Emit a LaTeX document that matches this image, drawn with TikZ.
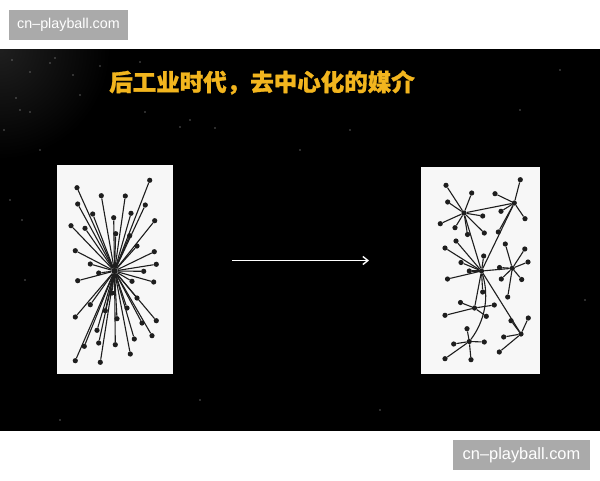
\documentclass[tikz,border=0pt]{standalone}
\usepackage{fontspec}
\setmainfont{Liberation Sans}
\newfontfamily\cjk{Noto Sans CJK SC}
\usetikzlibrary{arrows.meta}
\definecolor{gold}{HTML}{F2B51E}
\definecolor{wmgrey}{HTML}{AAAAAA}
\definecolor{paper}{HTML}{F7F7F7}
\definecolor{ink}{HTML}{1E1E1E}
\tikzset{
  dot/.style={circle,fill=ink,inner sep=0pt,minimum size=5.2pt},
  hub/.style={circle,fill=ink,inner sep=0pt,minimum size=5.2pt},
  spoke/.style={draw=ink,line width=1.1pt},
  panel/.style={fill=paper,draw=none},
  wmbox/.style={fill=wmgrey,draw=none,text=white,inner sep=0pt,anchor=center},
}
\begin{document}
\begin{tikzpicture}[x=1pt,y=-1pt]
\useasboundingbox (0,0) rectangle (600,480);
\fill[white] (0,0) rectangle (600,480);
\fill[black] (0,49) rectangle (600,431);
\begin{scope}
  \clip (0,49) rectangle (600,431);
  \shade[inner color=black!88!white, outer color=black] (0,49) circle (110pt);
\end{scope}
% faint stars
\foreach \sx/\sy in {12/60,30/72,55/58,80/95,20/110,140/62,190/120,300/150,350/130,40/150,560/70,520/110,10/200,25/280,585/300,200/400,380/410,60/420,16/98,30/112,73/75,145/112,180/127,4/130,215/128,22/220,50/63,100/66}
  \fill[gray!50] (\sx,\sy) circle (0.55pt);
% watermarks
\node[wmbox,minimum width=119pt,minimum height=30pt] (wm1) at (68.5,25) {\fontsize{14.3}{15}\selectfont cn–playball.com};
\node[wmbox,minimum width=137pt,minimum height=30pt] (wm2) at (521.5,455) {\fontsize{16.4}{17}\selectfont cn–playball.com};
% title
\node[text=gold,inner sep=0pt] (title) at (262,82.5) {\cjk\bfseries\addfontfeature{FakeBold=1.2}\fontsize{23.5}{24}\selectfont 后工业时代，去中心化的媒介};
% panels
\fill[panel] (57,165) rectangle (173,374);
\fill[panel] (421,167) rectangle (540,374);
% left: centralised star
\node[hub,minimum size=6.5pt] (lc) at (114.5,271) {};
\foreach [count=\i] \px/\py in {77/187.7,149.7/180.3,101.3/195.7,125.3/196,77.7/204,145.3/205,92.7/214,131/213.3,113.7/217.7,154.7/220.7,71/225.7,85/228.3,115.7/233.7,129.7/235.7,137/246,75.3/250.7,154.3/251.7,90.3/264,156.3/264.3,98.7/273,143.7/271.3,77.7/280.7,132/281.3,153.7/282,112/293,137/298,90.3/304.7,127/308,105.3/310.7,75.3/317,117/318.7,142/323,156.3/320.7,97/330.3,152/335.7,134.3/339,98.7/343,115.3/344.7,84.3/346.3,130.3/354,75.3/360.7,100.3/362.3}
{
  \node[dot] (l\i) at (\px,\py) {};
  \draw[spoke] (lc) -- (l\i);
}
% right: decentralised network
\node[hub] (A) at (464,213) {};
\node[hub] (B) at (514.3,203) {};
\node[hub] (C) at (481.5,271) {};
\node[hub] (D) at (512.3,268.3) {};
\node[hub] (E) at (474.5,308) {};
\node[hub] (F) at (521,334) {};
\node[hub] (G) at (469.3,341.5) {};
\draw[spoke] (A) -- (B);
\draw[spoke] (A) -- (C);
\draw[spoke] (B) -- (C);
\draw[spoke] (C) -- (D);
\draw[spoke] (C) -- (E);
\draw[spoke] (C) -- (F);
\draw[spoke] (C) .. controls (490,298) and (484,322) .. (G);
\foreach \h/\lst in {A/{446/185.3,471.7/193,447.7/202,482.7/216,440.3/223.7,455/227.7,467.5/234.5,484.3/233},
                     B/{520.3/179.7,495/193.7,501/211.3,525/218.7,498.3/232},
                     C/{445/248,456/241,483.7/256,461/262.5,469.3/271,447.5/279,482.7/292},
                     D/{505.3/244,524.8/249,528/262,499.5/267.5,501.3/279,521.7/279.5,507.7/297},
                     E/{460.5/302.5,494.3/305,445/315.3,486.3/316.3},
                     F/{511/320.7,528.3/318,503.7/337,499.3/352},
                     G/{467/328.7,484.3/342,453.7/344,445/358.7,471/359.7}}
{
  \foreach [count=\j] \px/\py in \lst {
    \node[dot] (\h\j) at (\px,\py) {};
    \draw[spoke] (\h) -- (\h\j);
  }
}
% arrow
\coordinate (as) at (232,260.5);
\coordinate (ae) at (369,260.5);
\draw[white,line width=1.4pt,-{Straight Barb[length=5pt,width=8pt,line width=1.4pt]}] (as) -- (ae);
\end{tikzpicture}
\end{document}
